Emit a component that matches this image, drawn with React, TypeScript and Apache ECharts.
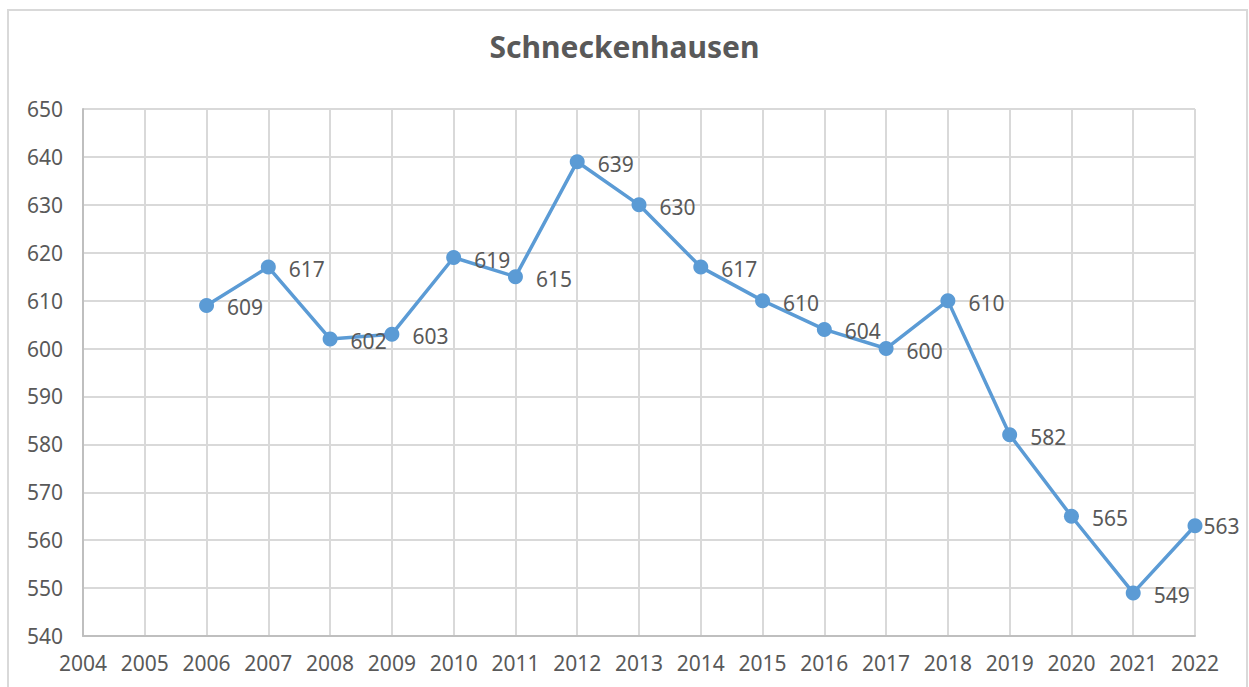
import React, { useEffect, useRef } from "react";
import * as echarts from "echarts";

const years = ["2004","2005","2006","2007","2008","2009","2010","2011","2012","2013","2014","2015","2016","2017","2018","2019","2020","2021","2022"];
const values: (number | null)[] = [null, null, 609, 617, 602, 603, 619, 615, 639, 630, 617, 610, 604, 600, 610, 582, 565, 549, 563];
const title = "Schneckenhausen";

export default function App() {
  const ref = useRef<HTMLDivElement>(null);
  useEffect(() => {
    const chart = echarts.init(ref.current!, null, { renderer: "svg" });
    const font = "'Noto Sans', sans-serif";
    const last = values.length - 1;
    const seriesData = values.map((v, i) =>
      i === last ? { value: v, label: { distance: 1, offset: [0, 0] } } : v
    );
    chart.setOption({
      animation: false,
      backgroundColor: "#ffffff",
      title: {
        text: title,
        left: "center",
        top: 26,
        textStyle: { color: "#595959", fontSize: 30, fontWeight: "bold", fontFamily: font },
      },
      graphic: [
        {
          type: "rect",
          shape: { x: 8, y: 10, width: 1239, height: 700 },
          style: { fill: "none", stroke: "#d9d9d9", lineWidth: 2 },
          z: -1,
        },
      ],
      grid: { left: 83, right: 54, top: 109, bottom: 51, containLabel: false },
      xAxis: {
        type: "category",
        data: years,
        boundaryGap: false,
        axisLine: { lineStyle: { color: "#bfbfbf", width: 2 } },
        axisTick: { show: false },
        splitLine: { show: true, lineStyle: { color: "#d9d9d9", width: 2 } },
        axisLabel: { color: "#595959", fontSize: 21, fontFamily: font, margin: 16, interval: 0 },
      },
      yAxis: {
        type: "value",
        min: 540,
        max: 650,
        interval: 10,
        axisLine: { show: true, lineStyle: { color: "#bfbfbf", width: 2 } },
        axisTick: { show: false },
        splitLine: { lineStyle: { color: "#d9d9d9", width: 2 } },
        axisLabel: { color: "#595959", fontSize: 21, fontFamily: font, margin: 20 },
      },
      series: [
        {
          type: "line",
          data: seriesData,
          symbol: "circle",
          symbolSize: 15,
          lineStyle: { color: "#5B9BD5", width: 3.5 },
          itemStyle: { color: "#5B9BD5" },
          label: {
            show: true,
            position: "right",
            distance: 13,
            offset: [0, 2],
            color: "#595959",
            fontSize: 21,
            fontFamily: font,
          },
        },
      ],
    });
    return () => chart.dispose();
  }, []);
  return <div ref={ref} style={{ position: "fixed", left: 0, top: 0, width: 1249, height: 687 }} />;
}
